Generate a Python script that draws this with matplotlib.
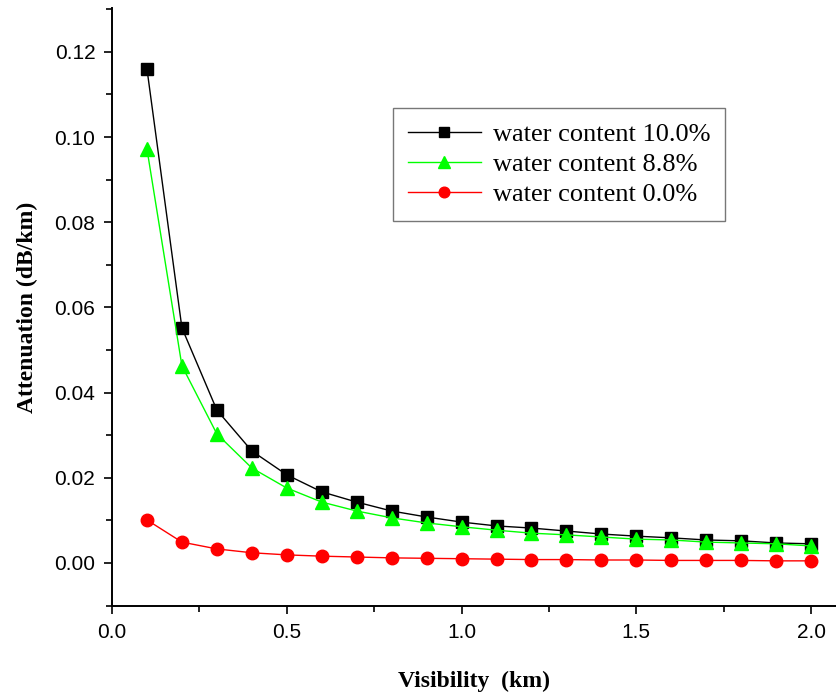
import matplotlib
matplotlib.use("Agg")
import matplotlib.pyplot as plt
from matplotlib.ticker import MultipleLocator, FormatStrFormatter

visibility = [0.1, 0.2, 0.3, 0.4, 0.5, 0.6, 0.7, 0.8, 0.9, 1.0,
              1.1, 1.2, 1.3, 1.4, 1.5, 1.6, 1.7, 1.8, 1.9, 2.0]
att_10_0 = [0.1160, 0.0552, 0.0359, 0.0263, 0.0207, 0.0167, 0.0143, 0.0122, 0.0108, 0.0096,
            0.0087, 0.0082, 0.0075, 0.0068, 0.0063, 0.0059, 0.0054, 0.0052, 0.0047, 0.0045]
att_8_8 = [0.0972, 0.0463, 0.0303, 0.0223, 0.0176, 0.0143, 0.0122, 0.0106, 0.0094, 0.0085,
           0.0077, 0.0070, 0.0066, 0.0061, 0.0056, 0.0054, 0.0049, 0.0047, 0.0045, 0.0040]
att_0_0 = [0.0101, 0.0049, 0.0033, 0.0024, 0.0019, 0.0016, 0.0014, 0.0012, 0.0011, 0.0010,
           0.0009, 0.0008, 0.0008, 0.0007, 0.0007, 0.0006, 0.0006, 0.0006, 0.0005, 0.0005]
labels = ["water content 10.0%", "water content 8.8%", "water content 0.0%"]

fig = plt.figure(figsize=(8.37, 6.97), dpi=100)
ax = fig.add_axes([112 / 837, 1 - 606 / 697, 1 - 112 / 837, (606 - 8) / 697])

ax.plot(visibility, att_10_0, color="black", lw=1.0, marker="s", ms=9, label=labels[0])
ax.plot(visibility, att_8_8, color="#00ff00", lw=1.0, marker="^", ms=10, label=labels[1])
ax.plot(visibility, att_0_0, color="red", lw=1.0, marker="o", ms=9, label=labels[2])

ax.set_xlim(0, 2.074)
ax.set_ylim(-0.0101, 0.1303)
ax.spines["top"].set_visible(False)
ax.spines["right"].set_visible(False)
for s in ("left", "bottom"):
    ax.spines[s].set_linewidth(1.4)

ax.xaxis.set_major_locator(MultipleLocator(0.5))
ax.xaxis.set_minor_locator(MultipleLocator(0.25))
ax.yaxis.set_major_locator(MultipleLocator(0.02))
ax.yaxis.set_minor_locator(MultipleLocator(0.01))
ax.xaxis.set_major_formatter(FormatStrFormatter("%.1f"))
ax.yaxis.set_major_formatter(FormatStrFormatter("%.2f"))
ax.tick_params(which="major", direction="out", length=6, width=1.2, labelsize=15, pad=6)
ax.tick_params(which="minor", direction="out", length=4, width=1.2)
for lab in ax.get_xticklabels() + ax.get_yticklabels():
    lab.set_fontfamily("Liberation Sans")

ax.set_xlabel("Visibility  (km)", fontsize=17, fontweight="bold",
              fontfamily="Liberation Serif", labelpad=21)
ax.set_ylabel("Attenuation (dB/km)", fontsize=17, fontweight="bold",
              fontfamily="Liberation Serif", labelpad=12)

leg = ax.legend(loc="upper left", bbox_to_anchor=(0.3876, 0.833), borderaxespad=0,
                frameon=True, fancybox=False, edgecolor="#555555",
                prop={"family": "Liberation Serif", "size": 19}, markerscale=0.85,
                handlelength=2.8, borderpad=0.55, labelspacing=0.25, handletextpad=0.45)
leg.get_frame().set_linewidth(1.0)

fig.savefig("out.png", dpi=100)
